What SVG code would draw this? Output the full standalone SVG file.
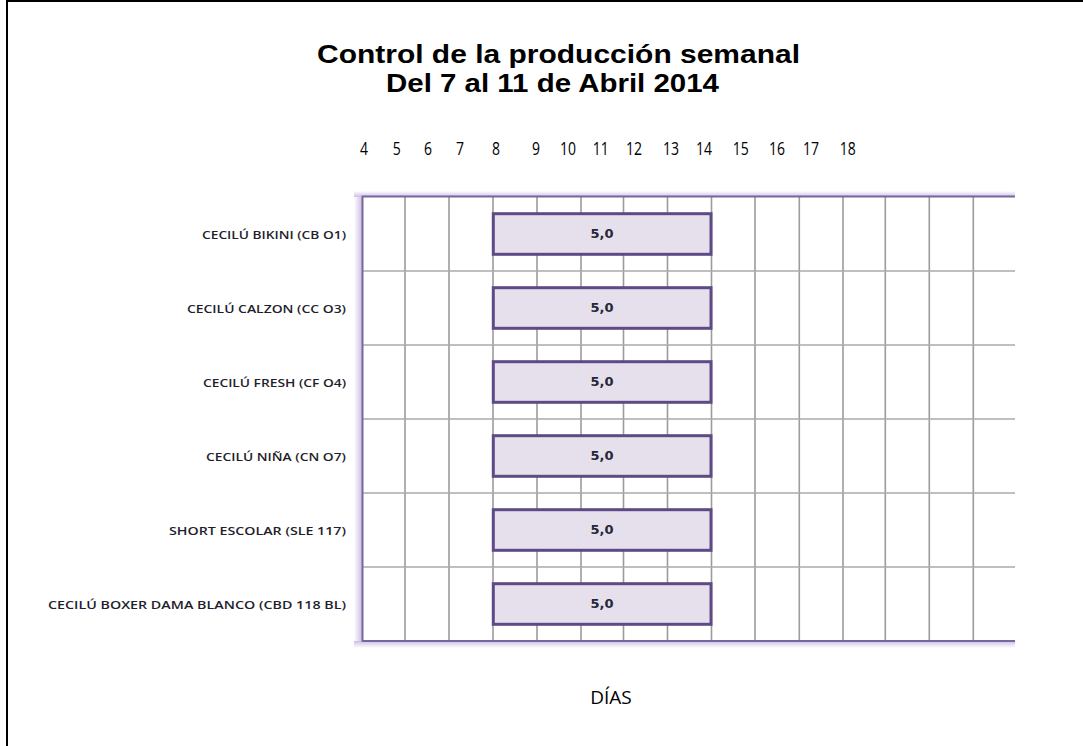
<svg xmlns="http://www.w3.org/2000/svg" width="1083" height="746" viewBox="0 0 1083 746">
<defs>
<style>
.title{font-family:"Liberation Sans",Arial,sans-serif;font-weight:bold;font-size:26px;fill:#000;text-anchor:middle}
.num{font-family:"Open Sans","Liberation Sans",sans-serif;font-size:14px;fill:#000;text-anchor:middle}
.lbl{font-family:"Open Sans","Liberation Sans",sans-serif;font-weight:600;font-size:10.5px;fill:#1e1e2c;text-anchor:end}
.bar{fill:#e5e0ec;stroke:#5e4a86;stroke-width:3}
.val{font-family:"DejaVu Sans",Verdana,sans-serif;font-weight:bold;font-size:13px;fill:#262638;text-anchor:middle}
.grid{stroke:#9c9c9c;stroke-width:1.6;fill:none}
.axis{font-family:"Open Sans","Liberation Sans",sans-serif;font-size:19px;fill:#000;text-anchor:middle}
</style>
<linearGradient id="glowL" x1="0" y1="0" x2="1" y2="0">
<stop offset="0" stop-color="#ffffff"/><stop offset="1" stop-color="#cdbde6"/>
</linearGradient>
<linearGradient id="glowT" x1="0" y1="0" x2="0" y2="1">
<stop offset="0" stop-color="#ffffff"/><stop offset="1" stop-color="#cdbde6"/>
</linearGradient>
<linearGradient id="glowB" x1="0" y1="0" x2="0" y2="1">
<stop offset="0" stop-color="#cdbde6"/><stop offset="1" stop-color="#ffffff"/>
</linearGradient>
</defs>
<rect width="1083" height="746" fill="#fff"/>
<g id="frame">
<line x1="7" y1="0" x2="7" y2="746" stroke="#000" stroke-width="2"/>
<line x1="6" y1="1" x2="1083" y2="1" stroke="#000" stroke-width="2"/>
</g>
<g id="title">
<text class="title" x="558.5" y="63" textLength="483" lengthAdjust="spacingAndGlyphs">Control de la producción semanal</text>
<text class="title" x="552.5" y="92" textLength="333" lengthAdjust="spacingAndGlyphs">Del 7 al 11 de Abril 2014</text>
</g>
<g id="scale" transform="translate(0,155) scale(1,1.3)">
<text class="num" x="364" y="0">4</text>
<text class="num" x="396.7" y="0">5</text>
<text class="num" x="428" y="0">6</text>
<text class="num" x="460" y="0">7</text>
<text class="num" x="496" y="0">8</text>
<text class="num" x="536" y="0">9</text>
<text class="num" x="568" y="0">10</text>
<text class="num" x="600.7" y="0">11</text>
<text class="num" x="634" y="0">12</text>
<text class="num" x="671" y="0">13</text>
<text class="num" x="704" y="0">14</text>
<text class="num" x="740.7" y="0">15</text>
<text class="num" x="777" y="0">16</text>
<text class="num" x="811" y="0">17</text>
<text class="num" x="847.7" y="0">18</text>
</g>
<g id="chart-frame">
<rect x="354" y="197" width="8" height="444" fill="url(#glowL)"/>
<rect x="354" y="191" width="661" height="6" fill="url(#glowT)"/>
<rect x="354" y="641" width="661" height="7" fill="url(#glowB)"/>
<rect x="362.5" y="197" width="653" height="444" fill="#fff"/>
</g>
<g id="grid" class="grid">
<path d="M405,197V641M449,197V641M493,197V641M537,197V641M581,197V641M623.5,197V641M667.5,197V641M711.5,197V641M755,197V641M799.3,197V641M843,197V641M885.3,197V641M929.3,197V641M973.3,197V641"/>
<path stroke="#ababab" d="M362,271H1015M362,345H1015M362,419H1015M362,493H1015M362,567H1015"/>
</g>
<g id="border" fill="none" stroke="#76689a" stroke-width="2">
<path d="M1015,196.5H362.5V641H1015"/>
</g>
<g id="row1">
<text class="lbl" x="346" y="238.5" textLength="144" lengthAdjust="spacingAndGlyphs">CECILÚ BIKINI (CB O1)</text>
<rect class="bar" x="493.3" y="213.7" width="217.7" height="40.6"/>
<text class="val" x="602" y="238.3">5,0</text>
</g>
<g id="row2">
<text class="lbl" x="346" y="312.5" textLength="159" lengthAdjust="spacingAndGlyphs">CECILÚ CALZON (CC O3)</text>
<rect class="bar" x="493.3" y="287.7" width="217.7" height="40.6"/>
<text class="val" x="602" y="312.3">5,0</text>
</g>
<g id="row3">
<text class="lbl" x="346" y="386.5" textLength="143" lengthAdjust="spacingAndGlyphs">CECILÚ FRESH (CF O4)</text>
<rect class="bar" x="493.3" y="361.7" width="217.7" height="40.6"/>
<text class="val" x="602" y="386.3">5,0</text>
</g>
<g id="row4">
<text class="lbl" x="346" y="460.5" textLength="140" lengthAdjust="spacingAndGlyphs">CECILÚ NIÑA (CN O7)</text>
<rect class="bar" x="493.3" y="435.7" width="217.7" height="40.6"/>
<text class="val" x="602" y="460.3">5,0</text>
</g>
<g id="row5">
<text class="lbl" x="346" y="534.5" textLength="177" lengthAdjust="spacingAndGlyphs">SHORT ESCOLAR (SLE 117)</text>
<rect class="bar" x="493.3" y="509.7" width="217.7" height="40.6"/>
<text class="val" x="602" y="534.3">5,0</text>
</g>
<g id="row6">
<text class="lbl" x="346" y="608.5" textLength="298" lengthAdjust="spacingAndGlyphs">CECILÚ BOXER DAMA BLANCO (CBD 118 BL)</text>
<rect class="bar" x="493.3" y="583.7" width="217.7" height="40.6"/>
<text class="val" x="602" y="608.3">5,0</text>
</g>
<g id="axis-label">
<text class="axis" x="611" y="704">DÍAS</text>
</g>
</svg>
